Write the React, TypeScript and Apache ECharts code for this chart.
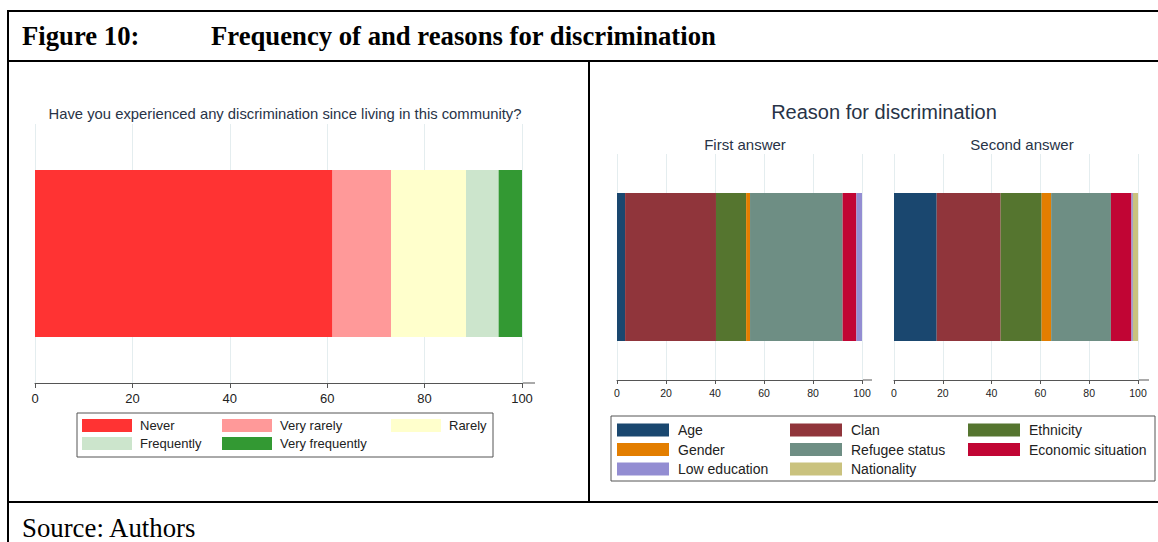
import React, { useEffect, useRef } from "react";
import * as echarts from "echarts";

// ---------- data ----------
const freqCategories = ["Never", "Very rarely", "Rarely", "Frequently", "Very frequently"];
const freqValues = [61.1, 12.0, 15.4, 6.7, 4.8];
const freqColors = ["#ff3333", "#ff9999", "#ffffcc", "#cce5cc", "#339933"];

const reasonCategories = [
  "Age",
  "Clan",
  "Ethnicity",
  "Gender",
  "Refugee status",
  "Economic situation",
  "Low education",
  "Nationality",
];
const firstAnswer = [3.3, 37.1, 12.3, 1.6, 37.8, 5.6, 2.3, 0];
const secondAnswer = [17.5, 26.2, 16.8, 3.9, 24.5, 8.4, 0.6, 2.1];
const reasonColors = ["#1a476f", "#90353b", "#55752f", "#e37e00", "#6e8e84", "#c10534", "#938dd2", "#cac27e"];

const tickMin = 0;
const tickMax = 100;
const tickStep = 20;

const leftTitle = "Have you experienced any discrimination since living in this community?";
const rightTitle = "Reason for discrimination";
const panelTitles = ["First answer", "Second answer"];

// ---------- layout ----------
const SANS = '"Liberation Sans", Arial, sans-serif';
const SERIF = '"Liberation Serif", "Times New Roman", serif';
const TITLE_COLOR = "#283347";
const AXIS_COLOR = "#555555";
const GRID_COLOR = "#e4edef";

const G0 = { left: 35, top: 124, width: 487, height: 259, bar: 167, ext: 13, font: 13, margin: 9, tick: 5 };
const G1 = { left: 617, top: 154, width: 245, height: 226, bar: 148, ext: 10, font: 10.5, margin: 7, tick: 4 };
const G2 = { left: 894, top: 154, width: 244, height: 226, bar: 148, ext: 11, font: 10.5, margin: 7, tick: 4 };

function makeXAxis(gridIndex: number, g: typeof G0) {
  return {
    gridIndex,
    type: "value",
    min: tickMin,
    max: tickMax,
    interval: tickStep,
    axisLine: { show: true, lineStyle: { color: AXIS_COLOR, width: 1 } },
    axisTick: { show: true, length: g.tick, lineStyle: { color: AXIS_COLOR } },
    axisLabel: { fontSize: g.font, color: "#222", margin: g.margin, fontFamily: SANS },
    splitLine: { show: true, lineStyle: { color: GRID_COLOR, width: 1 } },
  };
}

function makeYAxis(gridIndex: number) {
  return { gridIndex, type: "category", data: [""], show: false };
}

function legendCol(names: string[], left: number, top: number, w: number, h: number, gap: number, font: number, pad: number) {
  return {
    data: names,
    orient: "vertical",
    left,
    top,
    padding: 0,
    itemGap: gap,
    itemWidth: w,
    itemHeight: h,
    icon: "rect",
    selectedMode: false,
    textStyle: { fontSize: font, fontFamily: SANS, color: "#222", padding: [0, 0, 0, pad] },
  };
}

function hLine(x1: number, y1: number, x2: number, y2: number, color: string, w: number) {
  return { type: "line", silent: true, shape: { x1, y1, x2, y2 }, style: { stroke: color, lineWidth: w } };
}

function text(t: string, x: number, y: number, font: string) {
  return {
    type: "text",
    silent: true,
    x,
    y,
    style: {
      text: t,
      font,
      fill: TITLE_COLOR,
      align: "center",
      verticalAlign: "middle",
      textAlign: "center",
      textVerticalAlign: "middle",
    },
  };
}

function leftText(t: string, x: number, y: number, font: string) {
  return {
    type: "text",
    silent: true,
    x,
    y,
    style: { text: t, font, fill: "#000", align: "left", verticalAlign: "middle", textAlign: "left", textVerticalAlign: "middle" },
  };
}

export default function App() {
  const ref = useRef<HTMLDivElement>(null);

  useEffect(() => {
    if (!ref.current) return;
    const chart = echarts.init(ref.current, undefined, { renderer: "svg" });

    const series: any[] = [];
    freqCategories.forEach((name, i) => {
      series.push({
        type: "bar",
        name,
        stack: "freq",
        xAxisIndex: 0,
        yAxisIndex: 0,
        data: [freqValues[i]],
        barWidth: G0.bar,
        itemStyle: { color: freqColors[i] },
        silent: true,
        emphasis: { disabled: true },
      });
    });
    [firstAnswer, secondAnswer].forEach((vals, k) => {
      const g = k === 0 ? G1 : G2;
      reasonCategories.forEach((name, i) => {
        series.push({
          type: "bar",
          name,
          stack: "reason" + k,
          xAxisIndex: k + 1,
          yAxisIndex: k + 1,
          data: [vals[i]],
          barWidth: g.bar,
          itemStyle: { color: reasonColors[i] },
          silent: true,
          emphasis: { disabled: true },
        });
      });
    });

    const axisY = (g: typeof G0) => g.top + g.height;
    const graphic: any[] = [
      // table frame
      hLine(7, 11, 1158, 11, "#000", 2),
      hLine(8, 10, 8, 542, "#000", 2),
      hLine(8, 61, 1158, 61, "#000", 2),
      hLine(589, 61, 589, 502, "#000", 2),
      hLine(8, 502, 1158, 502, "#000", 2),
      leftText("Figure 10:", 22, 36, `bold 26.7px ${SERIF}`),
      leftText("Frequency of and reasons for discrimination", 211, 36, `bold 26.7px ${SERIF}`),
      leftText("Source: Authors", 22, 528, `26.8px ${SERIF}`),
      // chart titles
      text(leftTitle, 285, 114, `14.8px ${SANS}`),
      text(rightTitle, 884, 112, `20px ${SANS}`),
      text(panelTitles[0], 745, 144, `15px ${SANS}`),
      text(panelTitles[1], 1022, 144, `15px ${SANS}`),
      // axis line extensions beyond 100
      hLine(G0.left + G0.width, axisY(G0), G0.left + G0.width + G0.ext, axisY(G0), AXIS_COLOR, 1),
      hLine(G1.left + G1.width, axisY(G1), G1.left + G1.width + G1.ext, axisY(G1), AXIS_COLOR, 1),
      hLine(G2.left + G2.width, axisY(G2), G2.left + G2.width + G2.ext, axisY(G2), AXIS_COLOR, 1),
      // legend boxes
      { type: "rect", silent: true, shape: { x: 77, y: 413, width: 416, height: 44 }, style: { fill: "#fff", stroke: "#555", lineWidth: 1 }, z: -1 },
      { type: "rect", silent: true, shape: { x: 611, y: 416, width: 544, height: 65 }, style: { fill: "#fff", stroke: "#555", lineWidth: 1 }, z: -1 },
    ];

    chart.setOption({
      animation: false,
      backgroundColor: "#fff",
      grid: [G0, G1, G2].map((g) => ({ left: g.left, top: g.top, width: g.width, height: g.height, containLabel: false })),
      xAxis: [makeXAxis(0, G0), makeXAxis(1, G1), makeXAxis(2, G2)],
      yAxis: [makeYAxis(0), makeYAxis(1), makeYAxis(2)],
      legend: [
        legendCol([freqCategories[0], freqCategories[3]], 82, 419, 50, 13, 5, 13, 3),
        legendCol([freqCategories[1], freqCategories[4]], 222, 419, 50, 13, 5, 13, 3),
        legendCol([freqCategories[2]], 391, 419, 50, 13, 5, 13, 3),
        legendCol([reasonCategories[0], reasonCategories[3], reasonCategories[6]], 617, 423, 52, 13, 5.5, 14, 4),
        legendCol([reasonCategories[1], reasonCategories[4], reasonCategories[7]], 790, 423, 52, 13, 5.5, 14, 4),
        legendCol([reasonCategories[2], reasonCategories[5]], 968, 423, 52, 13, 5.5, 14, 4),
      ],
      graphic,
      series,
    });

    return () => chart.dispose();
  }, []);

  return (
    <div
      ref={ref}
      style={{ position: "absolute", left: 0, top: 0, width: 1158, height: 542 }}
    />
  );
}
